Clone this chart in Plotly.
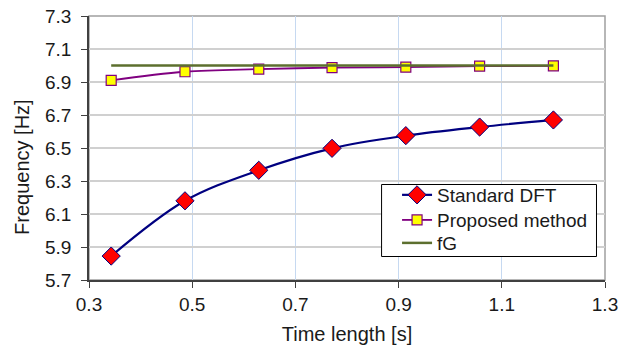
import plotly.graph_objects as go

time_length = [0.343, 0.486, 0.629, 0.771, 0.914, 1.057, 1.2]
standard_dft = [5.845, 6.18, 6.365, 6.498, 6.575, 6.627, 6.67]
proposed = [6.91, 6.962, 6.978, 6.987, 6.99, 6.996, 6.998]
fg_x = [0.343, 1.2]
fg_y = [7.0, 7.0]

x_ticks = [0.3, 0.5, 0.7, 0.9, 1.1, 1.3]
y_ticks = [5.7, 5.9, 6.1, 6.3, 6.5, 6.7, 6.9, 7.1, 7.3]

fig = go.Figure()
fig.add_trace(go.Scatter(
    x=time_length, y=standard_dft, name="Standard DFT", mode="lines+markers",
    legend="legend",
    line=dict(color="#000080", width=2.2, shape="spline"),
    marker=dict(symbol="diamond", size=14, color="#ff0000", line=dict(color="#000080", width=1))))
fig.add_trace(go.Scatter(
    x=time_length, y=proposed, name="Proposed method", mode="lines+markers",
    legend="legend2",
    line=dict(color="#800080", width=1.8, shape="spline"),
    marker=dict(symbol="square", size=10, color="#ffff00", line=dict(color="#800080", width=1.2))))
fig.add_trace(go.Scatter(
    x=fg_x, y=fg_y, name="fG", mode="lines",
    legend="legend3",
    line=dict(color="#5c6f2e", width=2.5)))

font = "Liberation Sans, Arial, sans-serif"
leg_common = dict(xanchor="left", yanchor="middle", bgcolor="rgba(0,0,0,0)",
                  borderwidth=0, font=dict(size=19, color="#1a1a1a"), itemwidth=30)
fig.update_layout(
    width=621, height=353,
    margin=dict(l=89, r=16, t=16, b=73, autoexpand=False),
    paper_bgcolor="white", plot_bgcolor="white",
    font=dict(family=font, size=19, color="#1a1a1a"),
    showlegend=True,
    legend=dict(x=0.597, y=0.322, **leg_common),
    legend2=dict(x=0.597, y=0.227, **leg_common),
    legend3=dict(x=0.597, y=0.140, **leg_common),
    xaxis=dict(range=[0.3, 1.3], tickvals=x_ticks, ticktext=[str(v) for v in x_ticks],
               automargin=False,
               showgrid=True, gridcolor="#c6d9f1", gridwidth=1,
               showline=True, linecolor="#404040", linewidth=1.5,
               ticks="outside", ticklen=6, tickcolor="#404040",
               zeroline=False,
               title=dict(text="Time length [s]", font=dict(size=20), standoff=13)),
    yaxis=dict(range=[5.7, 7.3], tickvals=y_ticks, ticktext=[f"{v:.1f}" for v in y_ticks],
               automargin=False, ticklabelstandoff=6,
               showgrid=True, gridcolor="#d0d0d0", gridwidth=1.5,
               showline=True, linecolor="#404040", linewidth=1.5,
               ticks="outside", ticklen=6, tickcolor="#404040",
               zeroline=False),
    annotations=[dict(text="Frequency [Hz]", xref="paper", yref="paper",
                      x=-0.13, y=0.428, xanchor="center", yanchor="middle",
                      textangle=-90, showarrow=False, font=dict(size=20))],
    shapes=[dict(type="rect", xref="x domain", yref="y domain", x0=0, x1=1, y0=0, y1=1,
                 line=dict(color="#a0a0a0", width=1.5), layer="below"),
            dict(type="rect", xref="paper", yref="paper", x0=0.567, x1=0.9835,
                 y0=0.089, y1=0.3617, fillcolor="white",
                 line=dict(color="#000000", width=1), layer="above")],
)
fig.write_html("out.html", post_script="document.body.style.margin='0';",
               config={"displayModeBar": False})
